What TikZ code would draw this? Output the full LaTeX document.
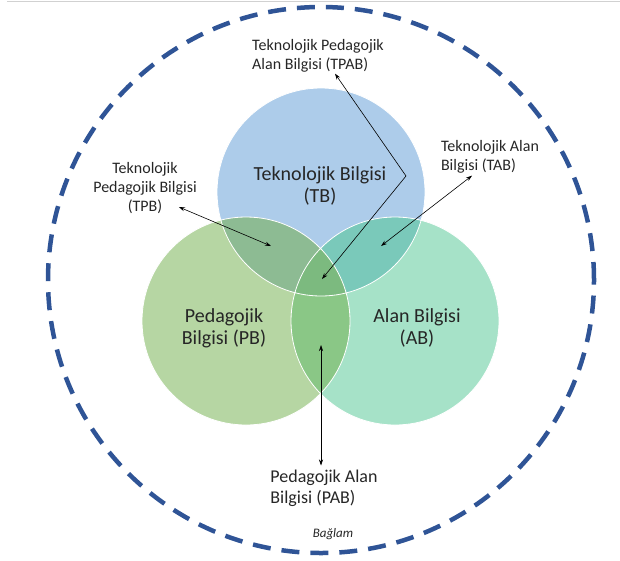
\documentclass[tikz,border=0pt]{standalone}
\usepackage{fontspec}
\setmainfont{Carlito}
\usetikzlibrary{arrows.meta,positioning}
\definecolor{tbcol}{HTML}{ADCCEA}
\definecolor{pbcol}{HTML}{B6D6A3}
\definecolor{abcol}{HTML}{A6E2C8}
\definecolor{tpbcol}{HTML}{8DBB93}
\definecolor{tabcol}{HTML}{7AC9BA}
\definecolor{pabcol}{HTML}{8AC786}
\definecolor{tpabcol}{HTML}{7CBA7F}
\definecolor{ringcol}{HTML}{2F5496}
\tikzset{>={Stealth[length=6pt,width=4pt]}}
\tikzset{
  bigtext/.style={font=\fontsize{20}{22}\selectfont, align=center, inner sep=0pt, text=black!85},
  smalltext/.style={font=\fontsize{16}{19}\selectfont, inner sep=0pt, text=black!85},
  pointer/.style={<->, line width=0.6pt},
  rim/.style={draw=white, line width=0.8pt}
}

\begin{document}
\begin{tikzpicture}[x=1pt,y=-1pt]
  \useasboundingbox (0,0) rectangle (620,560);
  \draw[black!18, line width=1pt] (7,1) -- (620,1);
  % circle centres
  \coordinate (tbc) at (321,192);
  \coordinate (pbc) at (246,321);
  \coordinate (abc) at (395,321);
  \fill[tbcol] (tbc) circle (104pt);
  \fill[pbcol] (pbc) circle (104pt);
  \fill[abcol] (abc) circle (104pt);
  % overlaps
  \begin{scope}
    \clip (tbc) circle (104pt);
    \fill[tpbcol] (pbc) circle (104pt);
    \fill[tabcol] (abc) circle (104pt);
  \end{scope}
  \begin{scope}
    \clip (pbc) circle (104pt);
    \fill[pabcol] (abc) circle (104pt);
    \clip (tbc) circle (104pt);
    \fill[tpabcol] (abc) circle (104pt);
  \end{scope}
  \draw[rim] (tbc) circle (104pt) (pbc) circle (104pt) (abc) circle (104pt);
  % context ring
  \draw[ringcol, line width=4.5pt, dash pattern=on 18pt off 11pt] (321,280) circle (273pt);

  \node[bigtext] (tb) at (320,186) {Teknolojik Bilgisi\\(TB)};
  \node[bigtext] (pb) at (224,328) {Pedagojik\\Bilgisi (PB)};
  \node[bigtext] (ab) at (417,328) {Alan Bilgisi\\(AB)};
  \node[smalltext, align=left] (tpab) at (318,56) {Teknolojik Pedagojik\\Alan Bilgisi (TPAB)};
  \node[smalltext, align=center] (tpb) at (145,188) {Teknolojik\\Pedagojik Bilgisi\\(TPB)};
  \node[smalltext, align=left] (tab) at (490,157) {Teknolojik Alan\\Bilgisi (TAB)};
  \node[smalltext, align=left, font=\fontsize{18}{21}\selectfont] (pab) at (324,488) {Pedagojik Alan\\Bilgisi (PAB)};
  \node[font=\itshape\fontsize{13}{15}\selectfont, text=black!85] (baglam) at (333,534) {Bağlam};

  % pointed regions
  \coordinate (tpabpt) at (322,279);
  \coordinate (bend) at (406,176);
  \coordinate (tpbpt) at (271,246);
  \coordinate (tabpt) at (381,246);
  \coordinate (pabpt) at (321,345);

  \draw[pointer] ([xshift=17pt,yshift=-1pt]tpab.south) -- (bend) -- (tpabpt);
  \draw[pointer] ([xshift=-18pt,yshift=-19pt]tpb.east) -- (tpbpt);
  \draw[pointer] ([xshift=-18pt,yshift=-2pt]tab.south) -- (tabpt);
  \draw[pointer] (pabpt) -- ([xshift=-3pt,yshift=4pt]pab.north);
\end{tikzpicture}
\end{document}
